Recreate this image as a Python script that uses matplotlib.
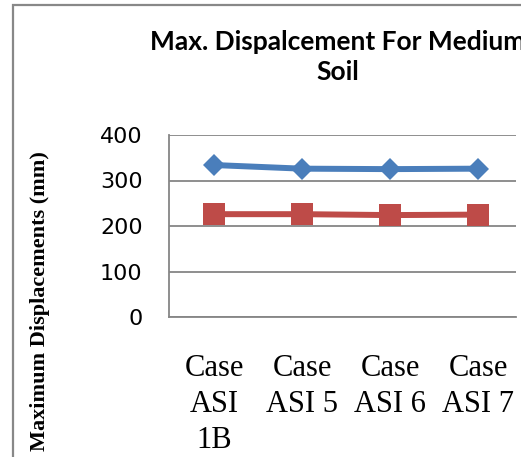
import matplotlib.pyplot as plt
from matplotlib.patches import Rectangle

cases = ['Case\nASI\n1B', 'Case\nASI 5', 'Case\nASI 6', 'Case\nASI 7']
series_a = [334, 326, 325, 326]
series_b = [226, 226, 224, 225]
y_ticks = [0, 100, 200, 300, 400]

fig = plt.figure(figsize=(5.21, 4.57), dpi=100)
ax = fig.add_axes([169 / 521, 140 / 457, 347 / 521, 182 / 457])

x = list(range(len(cases)))
ax.plot(x, series_a, color='#4A7EBB', lw=4.3, marker='D', ms=11,
        markeredgewidth=0, zorder=3)
ax.plot(x, series_b, color='#BE4B48', lw=4.3, marker='s', ms=16,
        markeredgewidth=0, zorder=3)

ax.set_xlim(-0.511, 3.43)
ax.set_ylim(0, 400)
ax.set_yticks(y_ticks)
ax.set_yticklabels([str(v) for v in y_ticks], fontsize=16)
ax.set_xticks(x)
ax.set_xticklabels(cases, fontsize=22, family='Liberation Serif',
                   linespacing=1.3)
ax.tick_params(axis='both', length=0)
ax.tick_params(axis='y', pad=19)
ax.tick_params(axis='x', pad=27)
ax.grid(axis='y', color='#868686', lw=1.3)
ax.set_axisbelow(True)
for side in ['top', 'right']:
    ax.spines[side].set_visible(False)
for side in ['left', 'bottom']:
    ax.spines[side].set_color('#868686')
    ax.spines[side].set_linewidth(1.3)

# title runs past the right edge of the frame
fig.text(338 / 521, 1 - 57 / 457, 'Max. Dispalcement For Medium\nSoil',
         ha='center', va='center', fontsize=19, fontweight='bold',
         family='Lato', linespacing=1.3)

fig.text(40 / 521, 1 - 301 / 457, 'Maximum Displacements (mm)',
         rotation=90, ha='center', va='center', fontsize=16,
         fontweight='bold', family='Liberation Serif')

# chart frame
fig.patches.append(Rectangle((12.5 / 521, -0.2), 1.0, 1.2 - 5 / 457,
                             transform=fig.transFigure, fill=False,
                             edgecolor='#888888', lw=1.6))

fig.savefig('out.png', dpi=100)
